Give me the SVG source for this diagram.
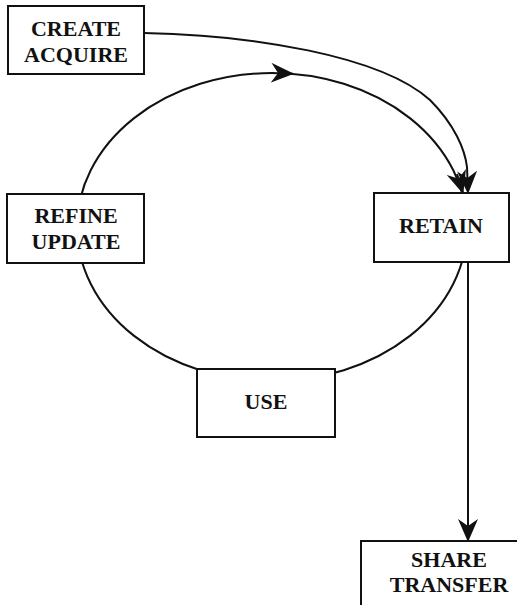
<svg xmlns="http://www.w3.org/2000/svg" width="517" height="605" viewBox="0 0 517 605">
<style>
.box{fill:#fff;stroke:#111;stroke-width:2}
.lbl{font-family:"Liberation Serif","Times New Roman",serif;font-weight:bold;font-size:22px;fill:#111;text-anchor:middle}
.ln{fill:none;stroke:#111;stroke-width:2}
</style>
<defs>
<marker id="ah" viewBox="0 0 23 20" markerWidth="23" markerHeight="20" refX="22" refY="10" orient="auto" markerUnits="userSpaceOnUse">
<path d="M0,0 L23,10 L0,20 L7,10 Z" fill="#111"/>
</marker>
</defs>
<rect width="517" height="605" fill="#fff"/>
<g id="connectors">
<ellipse class="ln" cx="272" cy="227" rx="195" ry="154"/>
<path class="ln" d="M280,73.2 L293,73.8" marker-end="url(#ah)"/>
<path class="ln" d="M457,174 L463,193" marker-end="url(#ah)"/>
<path class="ln" d="M144,33 C250,35 380,55 430,100 C455,125 465,150 467,167 L468,193" marker-end="url(#ah)"/>
<path class="ln" d="M468,262 L468,541" marker-end="url(#ah)"/>
</g>
<g id="create">
<rect class="box" x="8" y="6" width="136" height="68"/>
<text class="lbl" x="76" y="36">CREATE</text>
<text class="lbl" x="76" y="62">ACQUIRE</text>
</g>
<g id="refine">
<rect class="box" x="7" y="194" width="137" height="69"/>
<text class="lbl" x="76" y="223">REFINE</text>
<text class="lbl" x="76" y="249">UPDATE</text>
</g>
<g id="retain">
<rect class="box" x="374" y="193" width="135" height="69"/>
<text class="lbl" x="441" y="233">RETAIN</text>
</g>
<g id="use">
<rect class="box" x="197" y="369" width="138" height="68"/>
<text class="lbl" x="266" y="409">USE</text>
</g>
<g id="share">
<rect class="box" x="361" y="541" width="176" height="80"/>
<text class="lbl" x="449" y="567">SHARE</text>
<text class="lbl" x="449" y="592">TRANSFER</text>
</g>
</svg>
